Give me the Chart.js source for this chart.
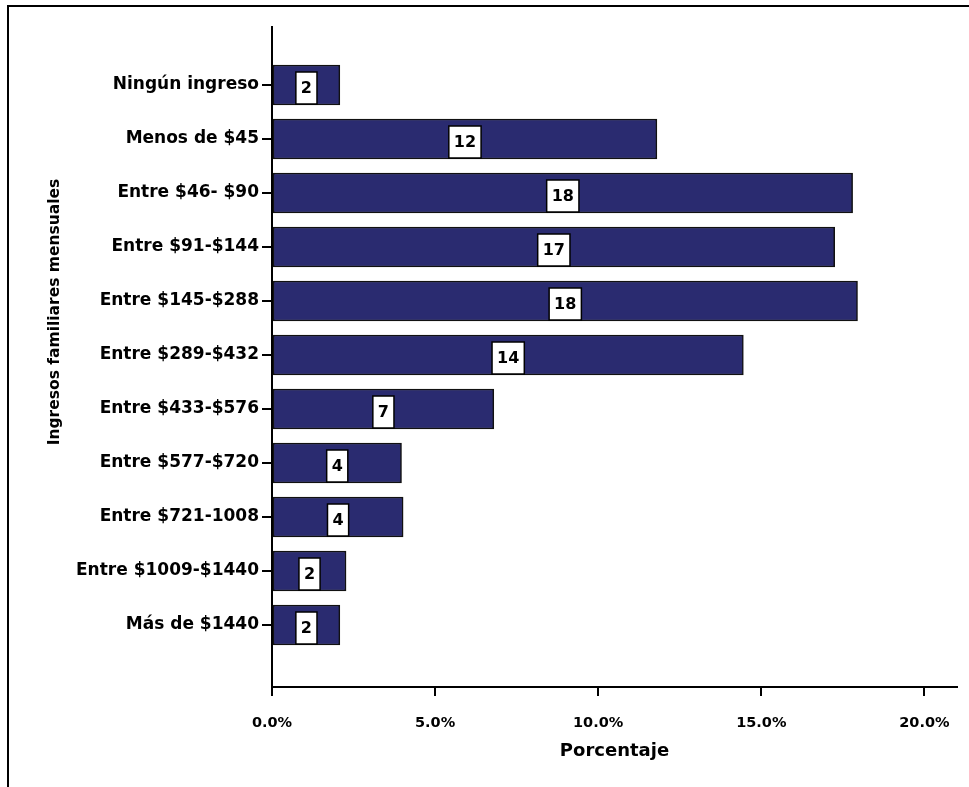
<!DOCTYPE html>
<html>
<head>
<meta charset="utf-8">
<script src="https://cdn.jsdelivr.net/npm/chart.js@4.4.1/dist/chart.umd.min.js"></script>
<style>
  html, body { margin: 0; padding: 0; background: #fff; overflow: hidden; }
  #wrap { position: relative; width: 969px; height: 787px; }
  #frame { position: absolute; left: 7px; top: 5px; width: 980px; height: 800px;
           border-left: 2px solid #000; border-top: 2px solid #000; pointer-events: none; }
  canvas { position: absolute; left: 0; top: 0; }
</style>
</head>
<body>
<div id="wrap">
  <canvas id="myChart" width="969" height="787"></canvas>
  <div id="frame"></div>
</div>
<script>
const categories = ['Ningún ingreso', 'Menos de $45', 'Entre $46- $90', 'Entre $91-$144',
    'Entre $145-$288', 'Entre $289-$432', 'Entre $433-$576', 'Entre $577-$720',
    'Entre $721-1008', 'Entre $1009-$1440', 'Más de $1440'];
const percentages = [2.08, 11.8, 17.8, 17.25, 17.95, 14.45, 6.8, 3.97, 4.02, 2.27, 2.08];
const barLabels = ['2', '12', '18', '17', '18', '14', '7', '4', '4', '2', '2'];
const xTicks = [0, 5, 10, 15, 20];

const FONT = '"DejaVu Sans", sans-serif';

// white boxes with the count in the middle of each bar
const boxLabels = {
    id: 'boxLabels',
    afterDatasetsDraw(chart) {
        const ctx = chart.ctx;
        const meta = chart.getDatasetMeta(0);
        ctx.save();
        ctx.font = 'bold 16px ' + FONT;
        ctx.textAlign = 'center';
        ctx.textBaseline = 'middle';
        meta.data.forEach((bar, i) => {
            const txt = barLabels[i];
            const cx = (bar.x + bar.base) / 2;
            const w = ctx.measureText(txt).width + 10;
            const top = bar.y - 13;
            ctx.fillStyle = '#fff';
            ctx.fillRect(cx - w / 2, top, w, 32);
            ctx.strokeStyle = '#000';
            ctx.lineWidth = 1.5;
            ctx.strokeRect(cx - w / 2, top, w, 32);
            ctx.fillStyle = '#000';
            ctx.fillText(txt, cx, top + 17);
        });
        ctx.restore();
    }
};

// y axis title sits above the middle of the axis in the original
const yTitle = {
    id: 'yTitle',
    afterDraw(chart) {
        const ctx = chart.ctx;
        ctx.save();
        ctx.translate(55, 312);
        ctx.rotate(-Math.PI / 2);
        ctx.font = 'bold 15.5px ' + FONT;
        ctx.textAlign = 'center';
        ctx.textBaseline = 'middle';
        ctx.fillStyle = '#000';
        ctx.fillText('Ingresos familiares mensuales', 0, 0);
        ctx.restore();
    }
};

const ctx = document.getElementById('myChart').getContext('2d');

new Chart(ctx, {
    type: 'bar',
    data: {
        datasets: [{
            data: percentages.map((v, i) => ({ x: v, y: i })),
            backgroundColor: '#2a2b70',
            borderColor: '#111',
            borderWidth: 1.5,
            borderSkipped: false,
            barThickness: 40
        }]
    },
    plugins: [boxLabels, yTitle],
    options: {
        indexAxis: 'y',
        responsive: false,
        animation: false,
        layout: { padding: { left: 0, right: 10, top: 27, bottom: 0 } },
        plugins: {
            legend: { display: false },
            tooltip: { enabled: false }
        },
        scales: {
            x: {
                type: 'linear',
                min: 0,
                max: 21,
                afterBuildTicks: (scale) => { scale.ticks = xTicks.map(v => ({ value: v })); },
                afterFit: (scale) => { scale.height = 100; },
                grid: { drawOnChartArea: false, color: '#000', lineWidth: 2, tickLength: 9 },
                border: { color: '#000', width: 2 },
                ticks: {
                    color: '#000',
                    padding: 19,
                    font: { family: FONT, weight: 'bold', size: 14.5 },
                    callback: (v) => v.toFixed(1) + '%'
                },
                title: {
                    display: true,
                    text: 'Porcentaje',
                    color: '#000',
                    font: { family: FONT, weight: 'bold', size: 18 },
                    padding: { top: 4, bottom: 25 }
                }
            },
            y: {
                type: 'linear',
                reverse: true,
                offset: false,
                min: -1.074,
                max: 11.148,
                afterBuildTicks: (scale) => { scale.ticks = categories.map((c, i) => ({ value: i })); },
                afterFit: (scale) => { scale.width = 272; },
                grid: { offset: false, drawOnChartArea: false, color: '#000', lineWidth: 2, tickLength: 10 },
                border: { color: '#000', width: 2 },
                ticks: {
                    color: '#000',
                    padding: 3,
                    autoSkip: false,
                    font: { family: FONT, weight: 'bold', size: 17 },
                    callback: (v) => categories[v]
                }
            }
        }
    }
});
</script>
</body>
</html>
